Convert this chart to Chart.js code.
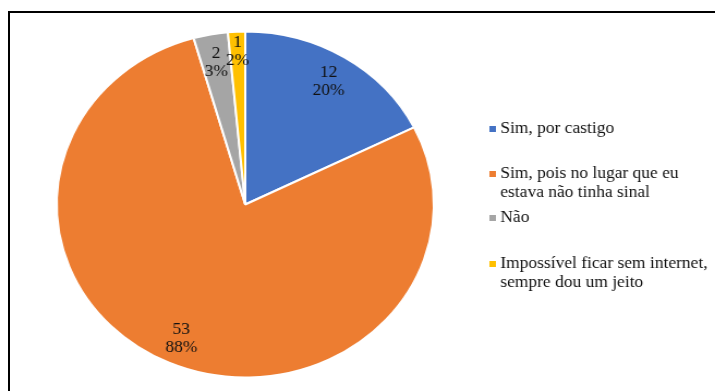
<!DOCTYPE html>
<html>
<head>
<meta charset="utf-8">
<script src="https://cdn.jsdelivr.net/npm/chart.js@4.4.0/dist/chart.umd.min.js"></script>
<style>
  html, body { margin: 0; padding: 0; background: #fff; overflow: hidden; }
  #wrap { width: 715px; height: 391px; position: relative; overflow: hidden; }
  #frame { position: absolute; left: 8px; top: 11px; width: 800px; height: 500px; border: 2px solid #000; }
  /* chart is drawn narrower and stretched sideways */
  #myChart { position: absolute; left: 0; top: 0; transform: scaleX(1.09); transform-origin: 0 0; }
</style>
</head>
<body>
<div id="wrap">
  <div id="frame"></div>
  <canvas id="myChart" width="656" height="391"></canvas>
</div>
<script>
// data
const categories = [
  ['Sim, por castigo'],
  ['Sim, pois no lugar que eu', 'estava não tinha sinal'],
  ['Não'],
  ['Impossível ficar sem internet,', 'sempre dou um jeito']
];
const counts = [12, 53, 2, 1];
const pctLabels = ['20%', '88%', '3%', '2%'];
const colors = ['#4472C4', '#ED7D31', '#A5A5A5', '#FFC000'];

const serif = '"Liberation Serif", "Times New Roman", serif';

// value + percent inside each slice
const sliceLabels = {
  id: 'sliceLabels',
  afterDatasetsDraw(chart) {
    const { ctx } = chart;
    const arcs = chart.getDatasetMeta(0).data;
    ctx.save();
    ctx.font = '16px ' + serif;
    ctx.fillStyle = '#111';
    ctx.textAlign = 'center';
    ctx.textBaseline = 'middle';
    arcs.forEach((arc, i) => {
      const mid = (arc.startAngle + arc.endAngle) / 2;
      // very thin slices get their label pushed out a bit
      const k = (arc.endAngle - arc.startAngle) < 0.15 ? 0.89 : 0.84;
      const r = arc.outerRadius * k;
      const x = arc.x + Math.cos(mid) * r;
      const y = arc.y + Math.sin(mid) * r;
      ctx.fillText(String(counts[i]), x, y - 8);
      ctx.fillText(pctLabels[i], x, y + 10);
    });
    ctx.restore();
  }
};

// legend on the right, items spread down the side
const sideLegend = {
  id: 'sideLegend',
  afterDraw(chart) {
    const { ctx } = chart;
    const tops = [129, 174, 218, 264];
    const lineH = 18.5;
    ctx.save();
    ctx.font = '16px ' + serif;
    ctx.textBaseline = 'middle';
    categories.forEach((lines, i) => {
      ctx.fillStyle = colors[i];
      ctx.fillRect(449, tops[i] - 3, 6, 6);
      ctx.fillStyle = '#111';
      lines.forEach((line, j) => ctx.fillText(line, 459, tops[i] + j * lineH));
    });
    ctx.restore();
  }
};

const chart = new Chart(document.getElementById('myChart'), {
  type: 'pie',
  data: {
    labels: categories.map(c => c.join(' ')),
    datasets: [{
      data: counts,
      backgroundColor: colors,
      borderColor: '#fff',
      borderWidth: 2
    }]
  },
  options: {
    responsive: false,
    devicePixelRatio: 1,
    animation: false,
    layout: { padding: { top: 30, bottom: 12, left: 51, right: 257 } },
    plugins: {
      legend: { display: false },
      tooltip: { enabled: false }
    }
  },
  plugins: [sliceLabels, sideLegend]
});
</script>
</body>
</html>
